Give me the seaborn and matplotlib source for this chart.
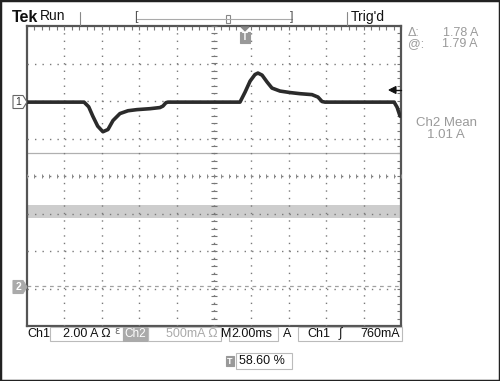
import numpy as np
import pandas as pd
import matplotlib
matplotlib.use("Agg")
import matplotlib.pyplot as plt
from matplotlib.patches import Rectangle, Polygon
import seaborn as sns

sns.set_style("white")
plt.rcParams["font.family"] = ["Liberation Sans", "DejaVu Sans"]

W, H = 500, 381

# --------------------------------------------------------------------------
# Data
# --------------------------------------------------------------------------
# Ch1 current (A, relative to ch1 ground marker) vs time (ms)
ch1_time_ms = [0.0, 3.05, 3.30, 3.52, 3.78, 4.06, 4.33, 4.60, 4.97, 5.40, 5.88, 6.58,
               7.11, 7.27, 7.43, 7.54, 11.39, 11.66, 11.93, 12.19, 12.35, 12.57,
               12.84, 13.10, 13.53, 14.07, 14.60, 15.24, 15.56, 15.78, 15.94,
               19.63, 19.79, 19.95]
ch1_amps = [0.0, 0.0, -0.25, -0.75, -1.28, -1.58, -1.46, -0.98, -0.61, -0.46, -0.40, -0.35,
            -0.29, -0.21, -0.03, 0.0, 0.0, 0.53, 1.12, 1.47, 1.55, 1.44,
            1.07, 0.75, 0.59, 0.51, 0.45, 0.40, 0.27, 0.03, 0.0,
            0.0, -0.27, -0.75]

# Ch2: flat noisy current
ch2_time_ms = [0.0, 20.0]
ch2_mean_amps = 1.01
ch2_pp_amps = 0.17

# settings
ch1_scale = 2.0      # A/div
ch2_scale = 0.5      # A/div
ch1_offset = 1.97    # div (ground marker position)
ch2_offset = -2.96   # div
cursor_amps = [1.79, 0.01]   # ch2 cursors (@ and @ - delta)

# --------------------------------------------------------------------------
# Figure
# --------------------------------------------------------------------------
fig = plt.figure(figsize=(W / 100, H / 100), dpi=100)
fig.patch.set_facecolor("white")

ax_l, ax_t, ax_r, ax_b = 27, 26, 401, 326
ax = fig.add_axes([ax_l / W, 1 - ax_b / H, (ax_r - ax_l) / W, (ax_b - ax_t) / H])
ax.set_xlim(0, 20)
ax.set_ylim(-4, 4)

# graticule
grid_kw = dict(color="#7a7a7a", lw=1.0, linestyle=(0, (1, 4.39)), zorder=3)
for gx in np.arange(2, 20, 2):
    ax.axvline(gx, **grid_kw)
for gy in np.arange(-3, 4, 1):
    ax.axhline(gy, **grid_kw)
ax.plot(np.full(41, 10.0), np.arange(-4, 4.01, 0.2), ls="none", marker="_",
        ms=4, mew=0.8, color="#777777", zorder=3)
ax.plot(np.arange(0, 20.01, 0.4), np.zeros(51), ls="none", marker="|",
        ms=3.5, mew=0.7, color="#888888", zorder=3)

ax.set_xticks(np.arange(0, 20.01, 2))
ax.set_yticks(np.arange(-4, 4.01, 1))
ax.set_xticks(np.arange(0, 20.01, 0.4), minor=True)
ax.set_yticks(np.arange(-4, 4.01, 0.2), minor=True)
ax.tick_params(which="both", direction="in", length=3, width=0.8, color="#777777",
               top=True, right=True, labelbottom=False, labelleft=False)
for sp in ax.spines.values():
    sp.set_color("#555555")
    sp.set_linewidth(1.6)

# cursors
ax.axhline(cursor_amps[0] / ch2_scale + ch2_offset, color="#b0b0b0", lw=0.9, zorder=2)
ax.axhline(cursor_amps[1] / ch2_scale + ch2_offset, color="#a0a0a0", lw=0.9,
           linestyle=(0, (3, 3)), zorder=2)

# ch2 band
ch2_df = pd.DataFrame({"t": ch2_time_ms,
                       "y": [ch2_mean_amps / ch2_scale + ch2_offset] * 2})
half = ch2_pp_amps / ch2_scale / 2
ax.fill_between(ch2_df["t"], ch2_df["y"] - half, ch2_df["y"] + half,
                color="#cdcdcd", lw=0, zorder=1)

# ch1 trace
ch1_df = pd.DataFrame({"t": ch1_time_ms,
                       "y": np.array(ch1_amps) / ch1_scale + ch1_offset})
sns.lineplot(data=ch1_df, x="t", y="y", ax=ax, color="#2b2b2b", lw=2.6,
             sort=False, zorder=4, solid_joinstyle="round", solid_capstyle="round")
ax.set_xlabel("")
ax.set_ylabel("")

# --------------------------------------------------------------------------
# Screen annotations (pixel coords from top-left)
# --------------------------------------------------------------------------
def px(x, y):
    return x / W, 1 - y / H


def ftxt(x, y, s, **kw):
    kw.setdefault("va", "center")
    kw.setdefault("fontsize", 9)
    fig.text(*px(x, y), s, **kw)


def fbox(x, y, w, h, fc="none", ec="#bbbbbb", lw=0.8):
    fig.patches.append(Rectangle(px(x, y + h), w / W, h / H, transform=fig.transFigure,
                                 fc=fc, ec=ec, lw=lw))


def fpoly(pts, fc="none", ec="#555555", lw=0.8):
    fig.patches.append(Polygon([px(a, b) for a, b in pts], closed=True,
                               transform=fig.transFigure, fc=fc, ec=ec, lw=lw))


def fline(x0, y0, x1, y1, color="#888888", lw=0.8):
    fig.add_artist(plt.Line2D([x0 / W, x1 / W], [1 - y0 / H, 1 - y1 / H],
                              transform=fig.transFigure, color=color, lw=lw))


# outer frame
fig.patches.append(Rectangle((0, 0), 1, 1, transform=fig.transFigure,
                             fc="none", ec="#222222", lw=2.5))

# top bar
ftxt(12, 17, "Tek", fontsize=11.5, fontweight="bold", color="#111111")
ftxt(40, 16, "Run", fontsize=10, color="#111111")
fline(80, 12, 80, 25)
fline(137, 19, 292, 19, color="#aaaaaa")
ftxt(134, 17, "[", fontsize=9, color="#555555")
ftxt(290, 17, "]", fontsize=9, color="#555555")
fbox(226, 15, 4, 8, fc="white", ec="#888888")
fline(347, 12, 347, 25)
ftxt(351, 17, "Trig'd", fontsize=10, color="#111111")

# trigger position marker
fpoly([(241, 27), (249, 27), (245, 31)], fc="#888888", ec="#888888")
fbox(240, 32, 10, 11, fc="#999999", ec="#999999")
ftxt(245, 37.5, "T", fontsize=7, fontweight="bold", color="white", ha="center")

# trigger level arrow
fpoly([(389, 90), (396, 86.5), (396, 93.5)], fc="#111111", ec="#111111")
fline(395, 90, 401, 90, color="#111111", lw=1)

# channel markers
fpoly([(13, 95.5), (23, 95.5), (27, 102), (23, 108.5), (13, 108.5)], fc="white", ec="#666666")
ftxt(18.5, 102, "1", fontsize=7.5, ha="center", color="#333333")
fpoly([(13, 280.5), (23, 280.5), (27, 287), (23, 293.5), (13, 293.5)], fc="#aaaaaa", ec="#aaaaaa")
ftxt(18.5, 287, "2", fontsize=7.5, ha="center", fontweight="bold", color="white")

# right side readouts
grey = "#9a9a9a"
ftxt(408, 33, "\u0394:", color=grey)
ftxt(478, 33, "1.78 A", color=grey, ha="right")
ftxt(408, 44, "@:", color=grey)
ftxt(478, 44, "1.79 A", color=grey, ha="right")
ftxt(446, 123, "Ch2 Mean", color=grey, ha="center", fontsize=9.5)
ftxt(446, 135, "1.01 A", color=grey, ha="center", fontsize=9.5)

# bottom status bar
by = 334
fs = 9
ftxt(27, by, "Ch1", color="#111111", fontsize=fs)
fbox(50, 327, 73, 14)
ftxt(63, by, "2.00 A \u03a9", color="#111111", fontsize=fs)
ftxt(114, by - 1, "\u2107", color="#555555", fontsize=6)
fbox(123, 327, 25, 14, fc="#aaaaaa", ec="#aaaaaa")
ftxt(124.5, by, "Ch2", color="white", fontsize=8.5)
fbox(148, 327, 73, 14)
ftxt(166, by, "500mA \u03a9", color="#aaaaaa", fontsize=fs)
ftxt(221.5, by, "M", color="#111111", fontsize=fs)
fbox(229, 327, 49, 14)
ftxt(231, by, "2.00ms", color="#111111", fontsize=fs)
ftxt(283, by, "A", color="#111111", fontsize=fs)
fbox(298, 327, 104, 14)
ftxt(307, by, "Ch1", color="#111111", fontsize=fs)
ftxt(339, by, "\u222b", color="#111111", fontsize=fs)
ftxt(400, by, "760mA", color="#111111", fontsize=fs, ha="right")

# trigger position readout
fbox(226, 356, 8, 10, fc="#999999", ec="#999999")
ftxt(230, 361, "T", fontsize=6.5, fontweight="bold", color="white", ha="center")
fbox(236, 353, 56, 16)
ftxt(239, 361, "58.60 %", color="#111111", fontsize=fs)

fig.savefig("out.png", dpi=100)
